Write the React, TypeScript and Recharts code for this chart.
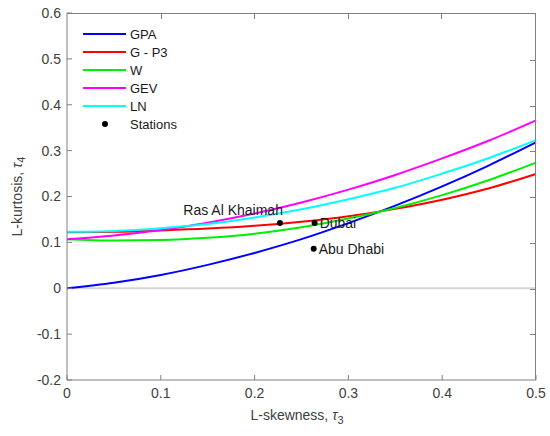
import { ComposedChart, Line, Scatter, XAxis, YAxis, ReferenceLine } from "recharts"

// L-skewness grid
const tau3 = [0, 0.05, 0.1, 0.15, 0.2, 0.25, 0.3, 0.35, 0.4, 0.45, 0.5]

// L-kurtosis for each distribution
const gpa = [0, 0.012, 0.029, 0.051, 0.077, 0.107, 0.142, 0.18, 0.222, 0.268, 0.318]
const gp3 = [0.122, 0.123, 0.126, 0.13, 0.136, 0.145, 0.157, 0.173, 0.193, 0.218, 0.249]
const weibull = [0.107, 0.104, 0.105, 0.11, 0.119, 0.133, 0.152, 0.175, 0.203, 0.236, 0.274]
const gev = [0.107, 0.115, 0.127, 0.143, 0.163, 0.187, 0.215, 0.247, 0.283, 0.322, 0.366]
const lnorm = [0.123, 0.125, 0.131, 0.14, 0.154, 0.172, 0.194, 0.219, 0.25, 0.284, 0.323]

const stationNames = ["Ras Al Khaimah", "Dubai", "Abu Dhabi"]
const stationT3 = [0.227, 0.264, 0.263]
const stationT4 = [0.142, 0.142, 0.086]

const xTicks = [0, 0.1, 0.2, 0.3, 0.4, 0.5]
const yTicks = [-0.2, -0.1, 0, 0.1, 0.2, 0.3, 0.4, 0.5, 0.6]

const curveData = tau3.map((t, i) => ({
  t3: t,
  gpa: gpa[i],
  gp3: gp3[i],
  w: weibull[i],
  gev: gev[i],
  ln: lnorm[i],
}))

const stations = stationNames.map((name, i) => ({ name, t3: stationT3[i], t4: stationT4[i] }))

const series = [
  { key: "gpa", name: "GPA", color: "#0000ff" },
  { key: "gp3", name: "G - P3", color: "#ff0000" },
  { key: "w", name: "W", color: "#00ee00" },
  { key: "gev", name: "GEV", color: "#ff00ff" },
  { key: "ln", name: "LN", color: "#00ffff" },
]

const FONT = "Arial, 'Liberation Sans', Helvetica, sans-serif"
const AXIS = "#808080"
const TEXT = "#404040"

// plot box (matches chart margins + axis sizes below)
const BOX = { left: 67, top: 13, width: 469, height: 367 }

// where each station label sits relative to its dot
const labelPos: Record<string, { dx: number; dy: number; anchor: "start" | "end" }> = {
  "Ras Al Khaimah": { dx: 3, dy: -8, anchor: "end" },
  Dubai: { dx: 5, dy: 5, anchor: "start" },
  "Abu Dhabi": { dx: 5, dy: 5, anchor: "start" },
}

function StationDot(props: any) {
  const { cx, cy, payload } = props
  const p = labelPos[payload.name]
  return (
    <g>
      <circle cx={cx} cy={cy} r={3} fill="#000" />
      <text x={cx + p.dx} y={cy + p.dy} textAnchor={p.anchor} fontSize={14} fontFamily={FONT} fill="#1a1a1a">
        {payload.name}
      </text>
    </g>
  )
}

// top and right edges of the box, with inward ticks
function BoxFrame() {
  const x0 = xTicks[0], x1 = xTicks[xTicks.length - 1]
  const y0 = yTicks[0], y1 = yTicks[yTicks.length - 1]
  return (
    <div
      style={{
        position: "absolute",
        ...BOX,
        boxSizing: "border-box",
        borderTop: `1px solid ${AXIS}`,
        borderRight: `1px solid ${AXIS}`,
        pointerEvents: "none",
      }}
    >
      {xTicks.slice(1, -1).map((t) => (
        <div
          key={`tx${t}`}
          style={{ position: "absolute", top: 0, left: `${((t - x0) / (x1 - x0)) * 100}%`, width: 1, height: 5, background: AXIS }}
        />
      ))}
      {yTicks.slice(1, -1).map((t) => (
        <div
          key={`ty${t}`}
          style={{ position: "absolute", right: 0, top: `${((y1 - t) / (y1 - y0)) * 100}%`, width: 5, height: 1, background: AXIS }}
        />
      ))}
    </div>
  )
}

function LegendBox() {
  const row = { display: "flex", alignItems: "center", height: 18 }
  return (
    <div style={{ position: "absolute", left: 83, top: 25, fontFamily: FONT, fontSize: 13, color: "#1a1a1a" }}>
      {series.map((s) => (
        <div key={s.key} style={row}>
          <span style={{ width: 43, height: 2, background: s.color, marginRight: 4 }} />
          <span>{s.name}</span>
        </div>
      ))}
      <div style={row}>
        <span style={{ width: 43, marginRight: 4, display: "flex", justifyContent: "center" }}>
          <span style={{ width: 6, height: 6, borderRadius: 3, background: "#000" }} />
        </span>
        <span>Stations</span>
      </div>
    </div>
  )
}

function YLabel(props: any) {
  const vb = props.viewBox
  const cx = 17
  const cy = vb.y + vb.height / 2
  return (
    <text
      x={cx}
      y={cy}
      transform={`rotate(-90, ${cx}, ${cy})`}
      textAnchor="middle"
      dominantBaseline="central"
      fontSize={14}
      fontFamily={FONT}
      fill={TEXT}
    >
      L-kurtosis, <tspan fontStyle="italic">τ</tspan>
      <tspan dy={4} fontSize={11}>4</tspan>
    </text>
  )
}

function XLabel() {
  return (
    <text x={297} y={420} textAnchor="middle" fontSize={14} fontFamily={FONT} fill={TEXT}>
      L-skewness, <tspan fontStyle="italic">τ</tspan>
      <tspan dy={4} fontSize={11}>3</tspan>
    </text>
  )
}

export default function App() {
  const tickStyle = { fontSize: 14, fontFamily: FONT, fill: TEXT }
  return (
    <div style={{ position: "absolute", left: 0, top: 0, width: 550, height: 436, background: "#fff" }}>
      <ComposedChart width={550} height={436} data={curveData} margin={{ top: 13, right: 14, bottom: 0, left: 0 }}>
        <XAxis
          dataKey="t3"
          type="number"
          domain={[0, 0.5]}
          ticks={xTicks}
          height={56}
          stroke={AXIS}
          tickSize={-5}
          tickMargin={13}
          tick={tickStyle}
          label={<XLabel />}
        />
        <YAxis
          type="number"
          domain={[-0.2, 0.6]}
          ticks={yTicks}
          width={67}
          stroke={AXIS}
          tickSize={-5}
          tickMargin={11}
          tick={tickStyle}
          label={{ content: (p: any) => <YLabel {...p} /> }}
        />
        <ReferenceLine y={0} stroke="#d6d6d6" strokeWidth={2} />
        {series.map((s) => (
          <Line
            key={s.key}
            type="monotone"
            dataKey={s.key}
            name={s.name}
            stroke={s.color}
            strokeWidth={2}
            dot={false}
            activeDot={false}
            isAnimationActive={false}
          />
        ))}
        <Scatter data={stations} dataKey="t4" name="Stations" shape={<StationDot />} isAnimationActive={false} />
      </ComposedChart>
      <BoxFrame />
      <LegendBox />
    </div>
  )
}
